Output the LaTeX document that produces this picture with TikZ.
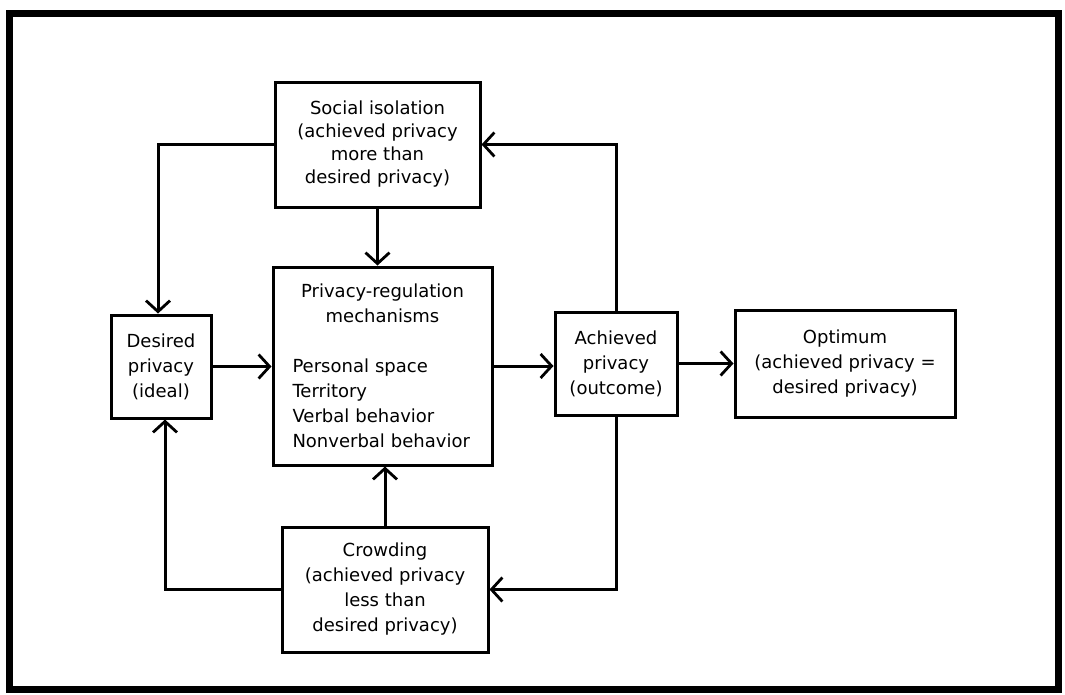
\documentclass[tikz,border=0pt]{standalone}
\usepackage{fontspec}
\setmainfont{DejaVu Sans}
\usetikzlibrary{arrows.meta}
\begin{document}
\begin{tikzpicture}[x=1pt,y=-1pt,
  box/.style={draw, line width=3pt, rectangle, inner sep=0pt, align=center,
    font=\fontsize{18}{25}\selectfont},
  conn/.style={line width=3pt},
  arr/.style={conn, -{Straight Barb[length=11pt,width=24pt,line width=2.8pt]}}]
\useasboundingbox (0,0) rectangle (1065,694);
\fill[white] (0,0) rectangle (1065,694);
\draw[line width=7pt] (9,13.5) rectangle (1058,689);

\node[box, minimum width=205pt, minimum height=125pt,
  font=\fontsize{18}{23}\selectfont] (soc) at (377.5,144.5)
  {Social isolation\\(achieved privacy\\more than\\desired privacy)};
\node[box, minimum width=219pt, minimum height=198pt, text width=180pt, align=left] (reg) at (382.5,366)
  {\makebox[\linewidth]{Privacy-regulation}\\\makebox[\linewidth]{mechanisms}\\[25pt]Personal space\\Territory\\Verbal behavior\\Nonverbal behavior};
\node[box, minimum width=100pt, minimum height=103pt] (des) at (161,366.5)
  {Desired\\privacy\\(ideal)};
\node[box, minimum width=122pt, minimum height=103pt] (ach) at (616,363.5)
  {Achieved\\privacy\\(outcome)};
\node[box, minimum width=220pt, minimum height=107pt] (opt) at (845,363.5)
  {Optimum\\(achieved privacy =\\desired privacy)};
\node[box, minimum width=206pt, minimum height=125pt] (cro) at (385,589.5)
  {Crowding\\(achieved privacy\\less than\\desired privacy)};

\draw[arr] (des.east) -- (des.east -| reg.west);
\draw[arr] (reg.east) -- (reg.east -| ach.west);
\draw[arr] (ach.east) -- (ach.east -| opt.west);
\draw[arr] (soc.south) -- (soc.south |- reg.north);
\draw[arr] (cro.north) -- (cro.north |- reg.south);
\coordinate (dn) at ([xshift=-3pt]des.north);
\coordinate (ds) at ([xshift=4pt]des.south);
\draw[arr] (soc.west) -| (dn);
\draw[arr] (cro.west) -| (ds);
\draw[arr] (ach.north) |- (soc.east);
\draw[arr] (ach.south) |- (cro.east);
\end{tikzpicture}
\end{document}
